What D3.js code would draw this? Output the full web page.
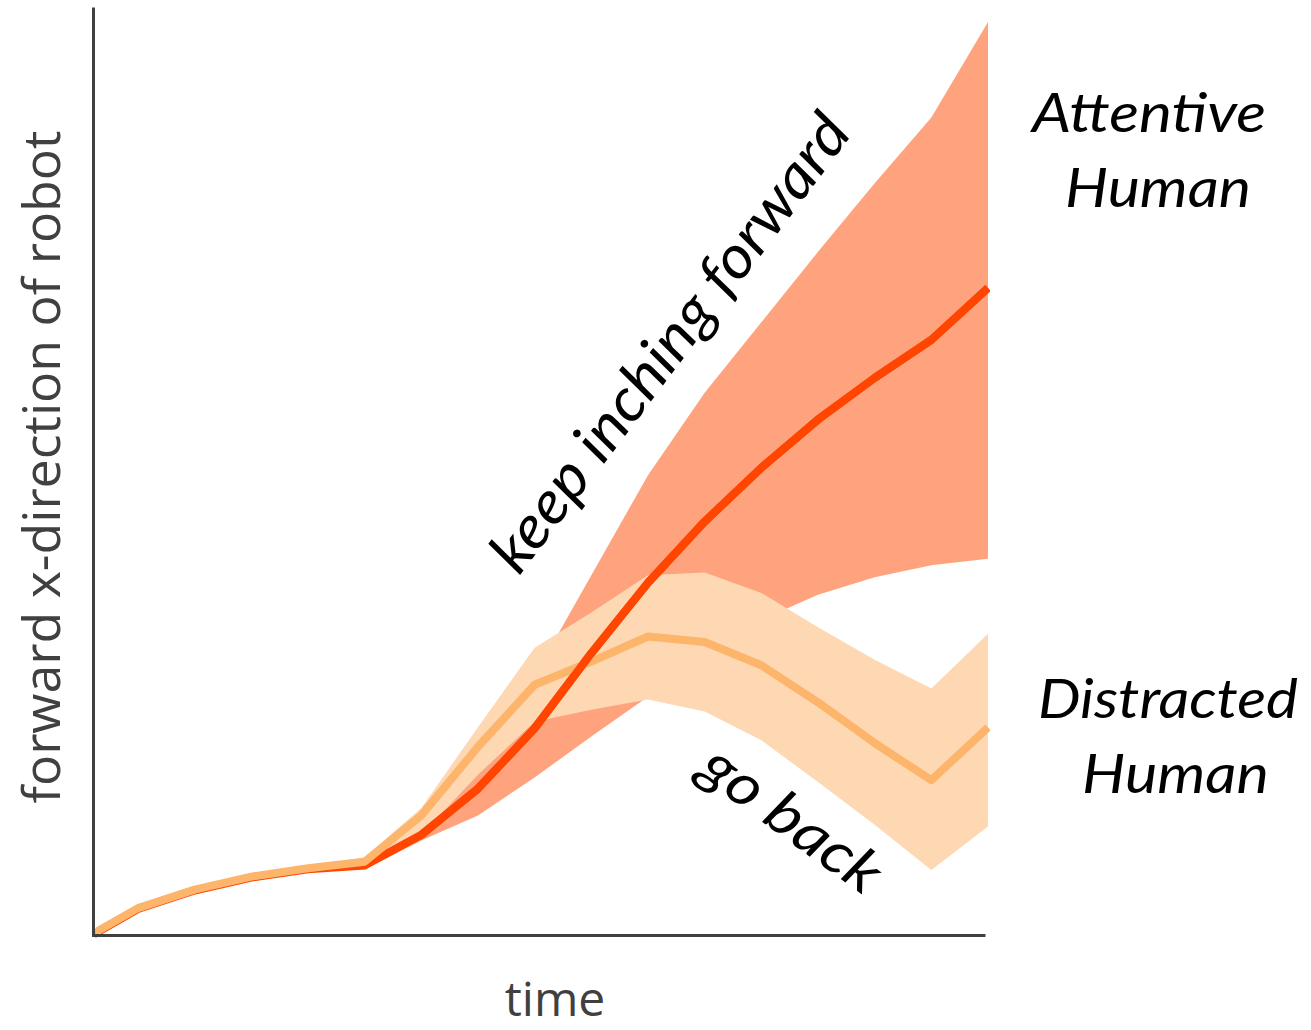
<!DOCTYPE html>
<html>
<head>
<meta charset="utf-8">
<script src="https://cdn.jsdelivr.net/npm/d3@7"></script>
<style>
  html, body { margin: 0; padding: 0; background: #fff; }
  svg { display: block; }
</style>
</head>
<body>
<svg id="chart" width="1311" height="1030"></svg>
<script>
// Time steps of the rollout
const timeSteps = [0, 1, 2, 3, 4, 5, 6, 7, 8, 9, 10, 11, 12, 13, 14, 15, 16];

// Attentive human: robot keeps inching forward
const attentiveMean  = [-0.7, 2.8, 4.8, 6.2, 7.1, 7.5, 10.8, 15.8, 22.3, 30.4, 38.0, 44.6, 50.4, 55.6, 60.1, 64.2, 69.8];
const attentiveUpper = [-0.7, 2.9, 4.9, 6.3, 7.2, 7.9, 11.9, 17.8, 28.0, 38.8, 49.6, 58.5, 66.1, 73.7, 81.1, 88.2, 98.5];
const attentiveLower = [-0.7, 2.6, 4.5, 5.9, 6.8, 7.1, 10.2, 12.9, 17.0, 21.4, 25.7, 30.5, 34.0, 36.7, 38.6, 39.9, 40.6];

// Distracted human: robot goes back
const distractedMean  = [-0.6, 2.9, 4.9, 6.3, 7.2, 7.9, 12.9, 20.3, 27.0, 29.5, 32.2, 31.6, 29.1, 25.1, 20.7, 16.7, 22.4];
const distractedUpper = [-0.6, 3.1, 5.1, 6.5, 7.4, 8.4, 13.7, 22.4, 31.0, 34.8, 38.8, 39.1, 36.9, 33.2, 29.7, 26.6, 32.5];
const distractedLower = [-0.6, 2.7, 4.7, 6.1, 7.0, 7.4, 10.8, 17.3, 23.0, 24.3, 25.4, 24.1, 21.0, 16.5, 11.9, 7.0, 11.7];

// Labels
const xLabel = "time";
const yLabel = "forward x-direction of robot";
const attentiveLabel = ["Attentive", "Human"];
const distractedLabel = ["Distracted", "Human"];
const forwardNote = "keep inching forward";
const backNote = "go back";

const svg = d3.select("#chart");

const plot = { left: 93, right: 985, top: 7, bottom: 935 };

const x = d3.scaleLinear().domain([0, 16]).range([81.3, 988]);
const y = d3.scaleLinear().domain([0, 100]).range([935, 8]);

const rows = (mean, lo, hi) => timeSteps.map((t, i) => ({ t, m: mean[i], lo: lo[i], hi: hi[i] }));
const attentive = rows(attentiveMean, attentiveLower, attentiveUpper);
const distracted = rows(distractedMean, distractedLower, distractedUpper);

const band = d3.area().x(d => x(d.t)).y0(d => y(d.lo)).y1(d => y(d.hi));
const line = d3.line().x(d => x(d.t)).y(d => y(d.m));

svg.append("clipPath").attr("id", "plotClip")
  .append("rect")
  .attr("x", plot.left + 2.5).attr("y", 0)
  .attr("width", 990 - plot.left - 2.5).attr("height", plot.bottom + 3);

const g = svg.append("g").attr("clip-path", "url(#plotClip)");

const colors = {
  attBand: "#ffa37f",
  attLine: "#ff4500",
  disBand: "#fdd8b3",
  disLine: "#fdb46b"
};

g.append("path").datum(attentive).attr("d", band).attr("fill", colors.attBand);
g.append("path").datum(distracted).attr("d", band).attr("fill", colors.disBand);

const lineStyle = sel => sel.attr("fill", "none")
  .attr("stroke-width", 8)
  .attr("stroke-linejoin", "round");

g.append("path").datum(attentive).attr("d", line).attr("stroke", colors.attLine).call(lineStyle);
g.append("path").datum(distracted).attr("d", line).attr("stroke", colors.disLine).call(lineStyle);
// attentive mean sits above the distracted one once the two split apart
g.append("path").datum(attentive.slice(6)).attr("d", line).attr("stroke", colors.attLine).call(lineStyle);

// Axes: plain dark lines without ticks
const axisColor = "#404040";
const xAxisScale = d3.scaleLinear().range([plot.left - 1.5, plot.right]);
svg.append("g")
  .attr("transform", `translate(0,${plot.bottom})`)
  .call(d3.axisBottom(xAxisScale).tickValues([]).tickSizeOuter(0))
  .call(a => a.select(".domain").attr("stroke", axisColor).attr("stroke-width", 3));

const yAxisScale = d3.scaleLinear().range([plot.bottom + 1.5, plot.top]);
svg.append("g")
  .attr("transform", `translate(${plot.left},0)`)
  .call(d3.axisLeft(yAxisScale).tickValues([]).tickSizeOuter(0))
  .call(a => a.select(".domain").attr("stroke", axisColor).attr("stroke-width", 3));

// Axis titles
svg.append("text")
  .attr("x", 555).attr("y", 1016)
  .attr("text-anchor", "middle")
  .attr("font-family", "'Open Sans', sans-serif")
  .attr("font-size", 48)
  .attr("fill", axisColor)
  .text(xLabel);

svg.append("text")
  .attr("transform", "translate(60,467) rotate(-90)")
  .attr("text-anchor", "middle")
  .attr("font-family", "'Open Sans', sans-serif")
  .attr("font-size", 52)
  .attr("textLength", 673)
  .attr("lengthAdjust", "spacingAndGlyphs")
  .attr("fill", axisColor)
  .text(yLabel);

// Series labels
const labelFont = "Lato, 'Open Sans', sans-serif";
function seriesLabel(lines, spec) {
  lines.forEach((txt, i) => {
    svg.append("text")
      .attr("x", spec[i].x).attr("y", spec[i].y)
      .attr("font-family", labelFont)
      .attr("font-style", "italic")
      .attr("font-size", 54)
      .attr("textLength", spec[i].w)
      .attr("lengthAdjust", "spacingAndGlyphs")
      .attr("fill", "#000")
      .text(txt);
  });
}
seriesLabel(attentiveLabel, [{ x: 1032, y: 132, w: 234 }, { x: 1065, y: 207, w: 186 }]);
seriesLabel(distractedLabel, [{ x: 1038, y: 718, w: 260 }, { x: 1082, y: 793, w: 187 }]);

// Slanted annotations along the curves
svg.append("text")
  .attr("transform", "translate(686,355) rotate(-53)")
  .attr("text-anchor", "middle")
  .attr("font-family", labelFont)
  .attr("font-style", "italic")
  .attr("font-size", 60)
  .attr("textLength", 555)
  .attr("lengthAdjust", "spacingAndGlyphs")
  .attr("fill", "#000")
  .text(forwardNote);

svg.append("text")
  .attr("transform", "translate(780,835) rotate(36)")
  .attr("text-anchor", "middle")
  .attr("font-family", labelFont)
  .attr("font-style", "italic")
  .attr("font-size", 58)
  .attr("textLength", 208)
  .attr("lengthAdjust", "spacingAndGlyphs")
  .attr("fill", "#000")
  .text(backNote);
</script>
</body>
</html>
